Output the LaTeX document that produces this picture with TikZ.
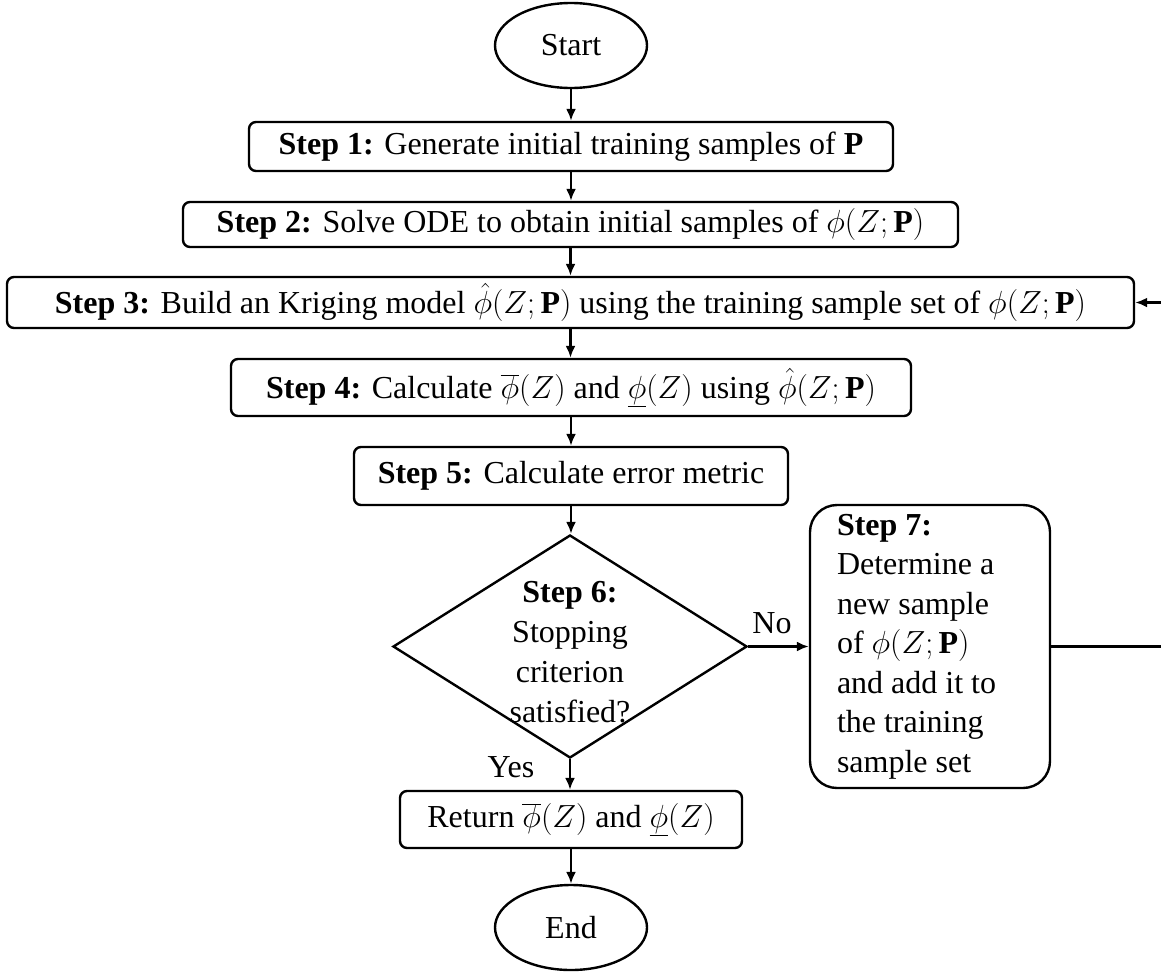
\documentclass[tikz,border=0pt]{standalone}
\usepackage{fix-cm}
\usepackage{fontspec}
\setmainfont{Liberation Serif}
\usetikzlibrary{shapes.geometric,arrows.meta}
\begin{document}
\begin{tikzpicture}[x=1pt,y=-1pt,
  font=\fontsize{32}{39}\selectfont,
  line width=2.4pt,
  stepbox/.style={draw, rounded corners=7pt, inner sep=0pt, align=center},
  term/.style={draw, ellipse, minimum width=152pt, minimum height=85pt, inner sep=0pt},
  decision/.style={draw, diamond, minimum width=354pt, minimum height=223pt, inner sep=0pt},
  arr/.style={-{Latex[length=12pt,width=10pt]}}]
\useasboundingbox (0,0) rectangle (1161,972);

\node[term] (start) at (571,45.5) {Start};
\node[stepbox, minimum width=644pt, minimum height=49pt] (s1) at (571,146.5)
  {\textbf{Step 1:} Generate initial training samples of $\mathbf{P}$};
\node[stepbox, minimum width=775pt, minimum height=45pt] (s2) at (570.5,224.5)
  {\textbf{Step 2:} Solve ODE to obtain initial samples of $\phi(Z;\mathbf{P})$};
\node[stepbox, minimum width=1127pt, minimum height=51pt] (s3) at (570.5,302.5)
  {\textbf{Step 3:} Build an Kriging model $\hat{\phi}(Z;\mathbf{P})$ using the training sample set of $\phi(Z;\mathbf{P})$};
\node[stepbox, minimum width=680pt, minimum height=57pt] (s4) at (571,387.5)
  {\textbf{Step 4:} Calculate $\overline{\phi}(Z)$ and $\underline{\phi}(Z)$ using $\hat{\phi}(Z;\mathbf{P})$};
\node[stepbox, minimum width=434pt, minimum height=58pt] (s5) at (571,476)
  {\textbf{Step 5:} Calculate error metric};
\node[decision] (s6) at (570,646.5) {};
\node[align=center, font=\fontsize{32}{40}\selectfont] (s6t) at (570,652)
  {\textbf{Step 6:}\\Stopping\\criterion\\satisfied?};
\node[draw, rounded corners=27pt, minimum width=240pt, minimum height=283pt,
  text width=186pt, align=flush left, inner sep=0pt,
  font=\fontsize{32}{39.5}\selectfont] (s7) at (930,646.5)
  {\textbf{Step 7:}\\Determine a\\new sample\\of $\phi(Z;\mathbf{P})$\\and add it to\\the training\\sample set};
\node (no) at (772,623) {No};
\node (yes) at (511,767) {Yes};
\node[stepbox, minimum width=342pt, minimum height=57pt] (ret) at (571,819.5)
  {Return $\overline{\phi}(Z)$ and $\underline{\phi}(Z)$};
\node[term] (end) at (571,927.5) {End};

\coordinate (fb1) at (1170,646.5);
\coordinate (fb2) at (1170,302.5);

\draw[arr] (start.south) -- (start.south |- s1.north);
\draw[arr] (s1.south) -- (s1.south |- s2.north);
\draw[arr] (s2.south) -- (s2.south |- s3.north);
\draw[arr] (s3.south) -- (s3.south |- s4.north);
\draw[arr] (s4.south) -- (s4.south |- s5.north);
\draw[arr] (s5.south) -- (s5.south |- s6.north);
\draw[arr] (s6.south) -- (s6.south |- ret.north);
\draw[arr] (ret.south) -- (ret.south |- end.north);
\draw[arr] (s6.east) -- (s6.east -| s7.west);
\draw[arr] (s7.east) -- (fb1) -- (fb2) -- (s3.east);
\end{tikzpicture}
\end{document}
